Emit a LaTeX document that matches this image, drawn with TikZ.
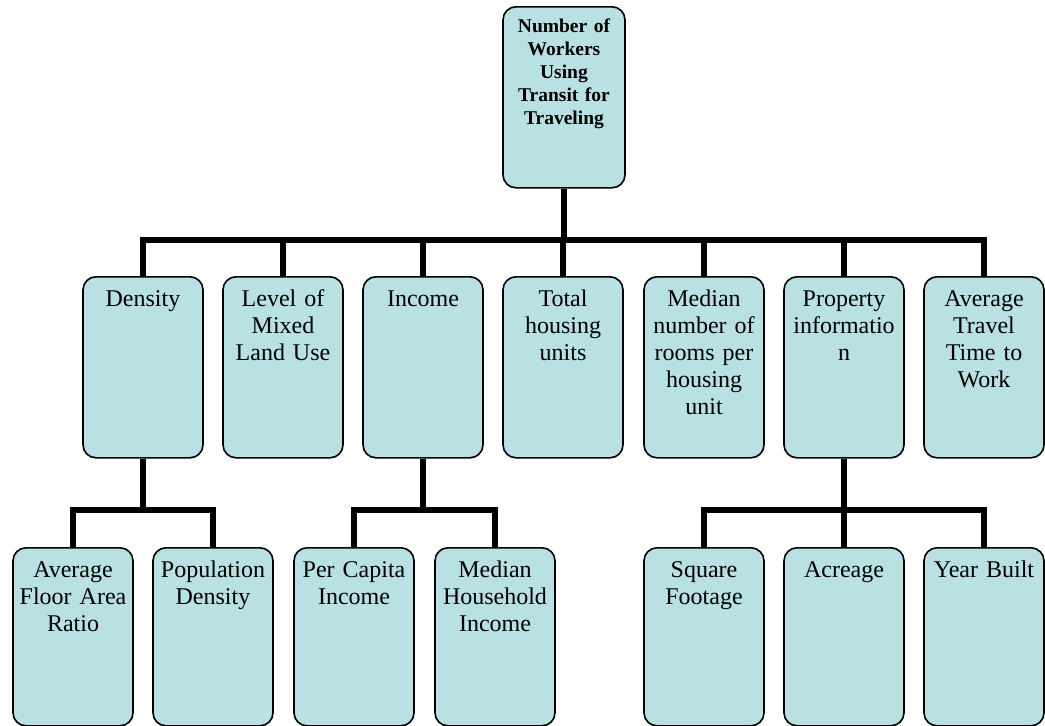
\documentclass[tikz,border=0pt]{standalone}
\usepackage{fontspec}
\setmainfont{Liberation Serif}
\usetikzlibrary{positioning}
\definecolor{boxblue}{RGB}{185,224,227}

\begin{document}
\begin{tikzpicture}[x=1pt,y=-1pt]
\tikzset{box/.style={draw=black, line width=1.6pt, fill=boxblue, rounded corners=13pt, anchor=north, inner sep=0pt, text width=120pt, align=center, text height=30pt, text depth=151pt, font=\fontsize{24}{27}\selectfont},
leaf/.style={box, text depth=148pt},
link/.style={line width=5.5pt}}
\useasboundingbox (0,0) rectangle (1045,726);
% goal
\node[box, text width=122pt, text height=26pt, text depth=155pt, font=\fontsize{19.5}{23}\selectfont\bfseries] (top) at (564,6) {Number of\\Workers\\Using\\Transit for\\Traveling};
% factors
\node[box] (dens) at (143,276) {Density};
\node[box] (mixed) at (283,276) {Level of\\Mixed\\Land Use};
\node[box] (inc) at (423,276) {Income};
\node[box] (units) at (563,276) {Total\\housing\\units};
\node[box] (rooms) at (704,276) {Median\\number of\\rooms per\\housing\\unit};
\node[box] (prop) at (844,276) {Property\\informatio\\n};
\node[box] (travel) at (984,276) {Average\\Travel\\Time to\\Work};
% sub factors
\node[leaf] (far) at (73,547) {Average\\Floor Area\\Ratio};
\node[leaf] (pop) at (213,547) {Population\\Density};
\node[leaf] (capita) at (354,547) {Per Capita\\Income};
\node[leaf] (hhinc) at (495,547) {Median\\Household\\Income};
\node[leaf] (sqft) at (704,547) {Square\\Footage};
\node[leaf] (acre) at (844,547) {Acreage};
\node[leaf] (built) at (984,547) {Year Built};
% connectors
\coordinate (bus) at (564,240);
\draw[link] (top.south) -- (bus);
\foreach \n in {dens,mixed,inc,units,rooms,prop,travel}
  \draw[link] (\n.north) |- (bus);
\coordinate (densbus) at (143,510);
\draw[link] (dens.south) -- (densbus);
\foreach \n in {far,pop}
  \draw[link] (\n.north) |- (densbus);
\coordinate (incbus) at (423,510);
\draw[link] (inc.south) -- (incbus);
\foreach \n in {capita,hhinc}
  \draw[link] (\n.north) |- (incbus);
\coordinate (propbus) at (844,510);
\draw[link] (prop.south) -- (propbus);
\foreach \n in {sqft,acre,built}
  \draw[link] (\n.north) |- (propbus);
\end{tikzpicture}
\end{document}
